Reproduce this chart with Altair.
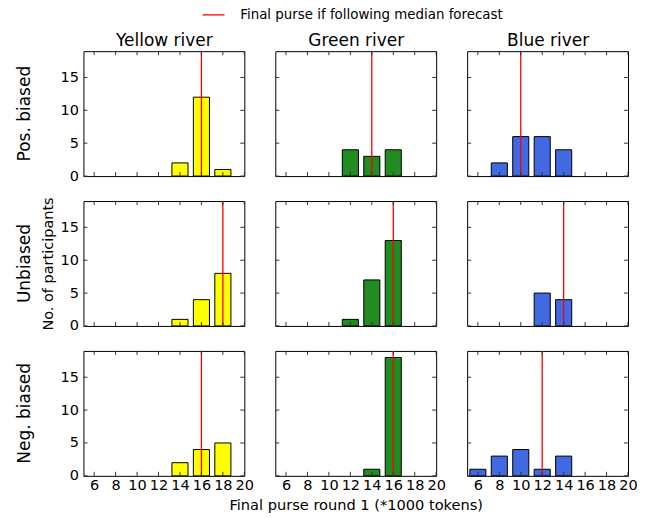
import altair as alt
import pandas as pd

# ---------------- data ----------------
rivers = ["Yellow river", "Green river", "Blue river"]
conditions = ["Pos. biased", "Unbiased", "Neg. biased"]
river_colors = ["#ffff00", "#228b22", "#4169e1"]

purse_bins = [6, 8, 10, 12, 14, 16, 18]
x_ticks = [6, 8, 10, 12, 14, 16, 18, 20]
y_ticks = [0, 5, 10, 15]

pos_yellow = [0, 0, 0, 0, 2, 12, 1]
pos_green = [0, 0, 0, 4, 3, 4, 0]
pos_blue = [0, 2, 6, 6, 4, 0, 0]
unb_yellow = [0, 0, 0, 0, 1, 4, 8]
unb_green = [0, 0, 0, 1, 7, 13, 0]
unb_blue = [0, 0, 0, 5, 4, 0, 0]
neg_yellow = [0, 0, 0, 0, 2, 4, 5]
neg_green = [0, 0, 0, 0, 1, 18, 0]
neg_blue = [1, 3, 4, 1, 3, 0, 0]

median_pos = [16, 14, 10]
median_unb = [18, 16, 14]
median_neg = [16, 16, 12]

legend_label = "Final purse if following median forecast"
x_title = "Final purse round 1 (*1000 tokens)"
y_title = "No. of participants"

counts = [
    [pos_yellow, pos_green, pos_blue],
    [unb_yellow, unb_green, unb_blue],
    [neg_yellow, neg_green, neg_blue],
]
medians = [median_pos, median_unb, median_neg]

# ---------------- layout ----------------
W, H = 161, 125
FONT = "DejaVu Sans"
tick_color = "#333333"
half_bar = 0.75

x_scale = alt.Scale(domain=[5, 20], nice=False, zero=False)
y_scale = alt.Scale(domain=[0, 19], nice=False, zero=True)
stroke_scale = alt.Scale(domain=[legend_label], range=["#ff0000"])

legend = alt.Legend(
    title=None, orient="none", legendX=123.5, legendY=-43,
    symbolType="M-2,0H2", symbolSize=121, symbolStrokeWidth=1.3,
    labelFontSize=13.4, labelOffset=20, padding=0, labelFont=FONT,
    labelColor="black", labelLimit=500,
)

hidden_axis = dict(labels=False, ticks=False, domain=False, grid=False, title=None)


def panel(r, c):
    df = pd.DataFrame({"purse": purse_bins, "n": counts[r][c]})
    df = df[df["n"] > 0]

    if r == 0:
        xaxis = alt.Axis(orient="top", title=rivers[c], labels=False, ticks=False,
                         domain=False, grid=False, titleFontSize=17,
                         titleFontWeight="normal", titlePadding=2, titleColor="black")
    elif r == 2:
        xaxis = alt.Axis(values=x_ticks, title=(x_title if c == 1 else None),
                         ticks=False, tickSize=0, domain=False, grid=False,
                         labelFontSize=14.5, labelPadding=3, labelFlush=False,
                         labelColor="black", titleFontSize=14.6,
                         titleFontWeight="normal", titlePadding=5, titleColor="black")
    else:
        xaxis = alt.Axis(**hidden_axis)

    if c == 0:
        yaxis = alt.Axis(values=y_ticks, title=y_title, titleOpacity=(1 if r == 1 else 0),
                         ticks=False, tickSize=0, domain=False, grid=False,
                         labelFontSize=14.5, labelPadding=5, labelColor="black",
                         titleFontSize=14.5, titleFontWeight="normal",
                         titlePadding=5, titleColor="black")
    else:
        yaxis = alt.Axis(**hidden_axis)

    bars = alt.Chart(df).transform_calculate(
        lo=f"datum.purse - {half_bar}", hi=f"datum.purse + {half_bar}", base="0"
    ).mark_rect(fill=river_colors[c], stroke="black", strokeWidth=1).encode(
        x=alt.X("lo:Q", scale=x_scale, axis=xaxis),
        x2="hi:Q",
        y=alt.Y("n:Q", scale=y_scale, axis=yaxis),
        y2="base:Q",
    )

    med = alt.Chart(pd.DataFrame({"median": [medians[r][c]], "what": [legend_label]})).mark_rule(
        strokeWidth=1.3
    ).encode(
        x=alt.X("median:Q", scale=x_scale, axis=xaxis),
        y=alt.value(0),
        y2=alt.value(H),
        stroke=alt.Stroke("what:N", scale=stroke_scale, legend=legend),
    )

    xt = alt.Chart(pd.DataFrame({"t": x_ticks}))
    yt = alt.Chart(pd.DataFrame({"t": y_ticks}))
    xt_bottom = xt.mark_rule(color=tick_color, strokeWidth=1).encode(
        x=alt.X("t:Q", scale=x_scale, axis=xaxis), y=alt.value(H), y2=alt.value(H - 4))
    xt_top = xt.mark_rule(color=tick_color, strokeWidth=1).encode(
        x=alt.X("t:Q", scale=x_scale, axis=xaxis), y=alt.value(0), y2=alt.value(4))
    yt_left = yt.mark_rule(color=tick_color, strokeWidth=1).encode(
        y=alt.Y("t:Q", scale=y_scale, axis=yaxis), x=alt.value(0), x2=alt.value(4))
    yt_right = yt.mark_rule(color=tick_color, strokeWidth=1).encode(
        y=alt.Y("t:Q", scale=y_scale, axis=yaxis), x=alt.value(W - 4), x2=alt.value(W))

    layer = alt.layer(bars, med, xt_bottom, xt_top, yt_left, yt_right).properties(
        width=W, height=H
    )
    if c == 0:
        layer = layer.properties(
            title=alt.TitleParams(text=conditions[r], orient="left", fontSize=17,
                                  fontWeight="normal", offset=6.5, anchor="middle",
                                  color="black", font=FONT)
        )
    return layer


cells = [panel(r, c) for r in range(3) for c in range(3)]

chart = alt.concat(
    *cells, columns=3, spacing={"row": 25, "column": 31}, bounds="flush"
).properties(
    padding={"left": 6.5, "top": 0, "right": 5, "bottom": 0}
).configure(
    font=FONT
).configure_view(
    stroke="black", strokeWidth=1
)

chart.save("out.html", embed_options={"renderer": "svg", "actions": False})
